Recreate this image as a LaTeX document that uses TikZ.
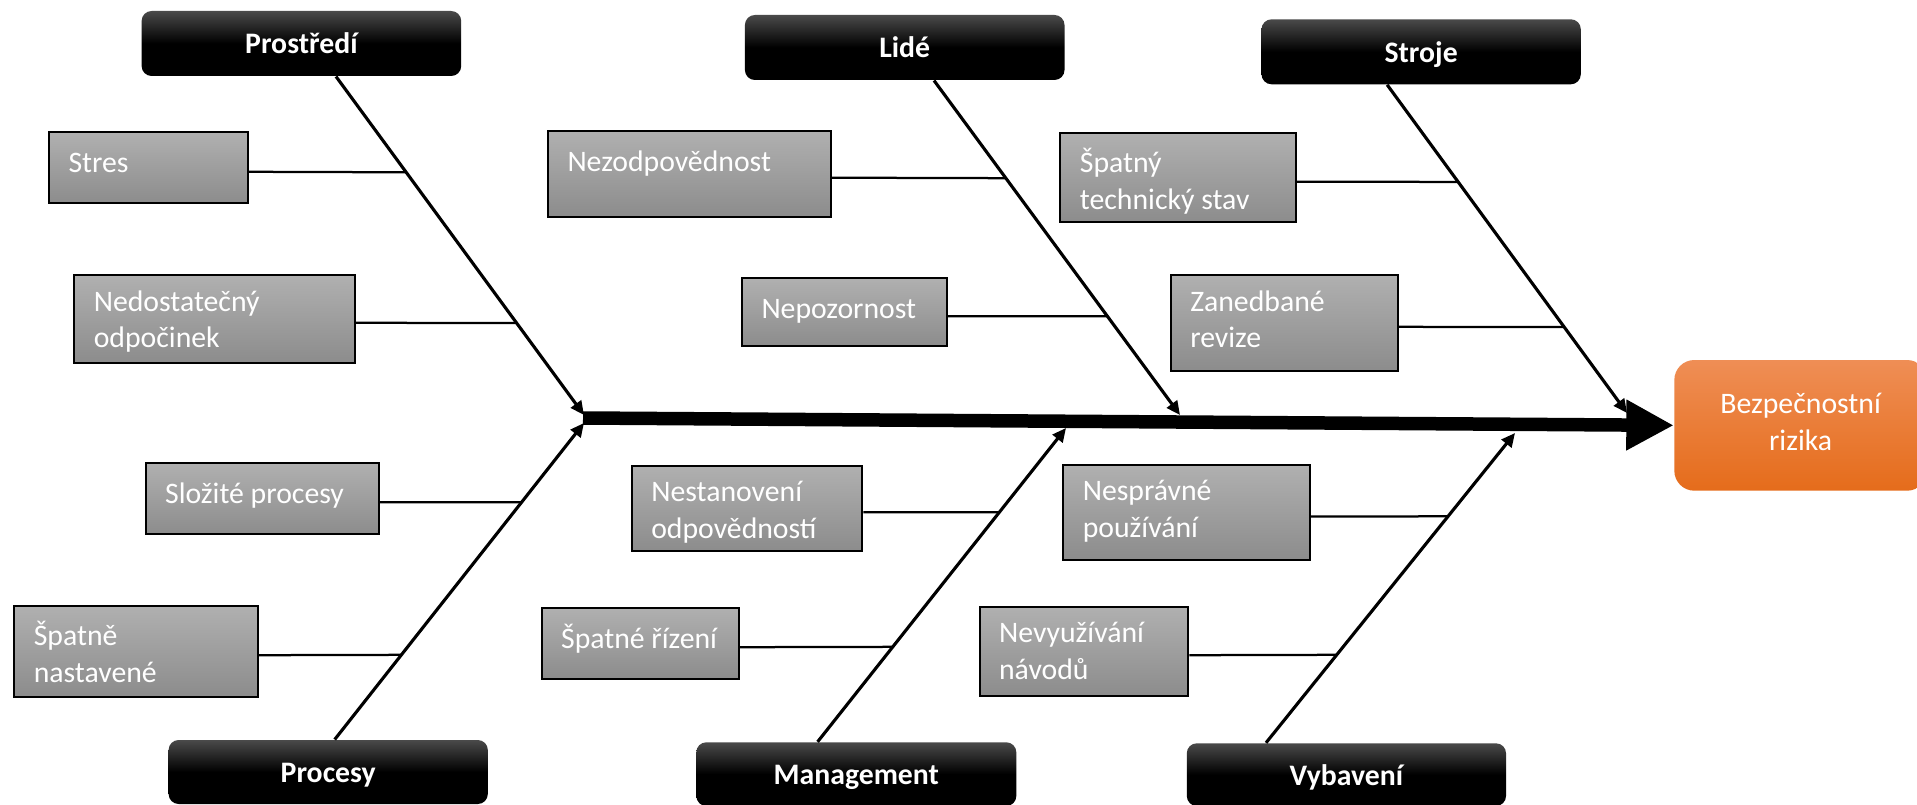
\documentclass[tikz,border=0pt]{standalone}
\usepackage{fontspec}
\setmainfont{Carlito}
\usetikzlibrary{arrows.meta,calc,fit}
\definecolor{headtop}{HTML}{4A4A4A}
\definecolor{causetop}{HTML}{B0B0B0}
\definecolor{causebot}{HTML}{8C8C8C}
\definecolor{efftop}{HTML}{EF8E55}
\definecolor{effbot}{HTML}{E56C1B}
\newcommand\dfont{\fontsize{11.9}{14.6}\selectfont}
\begin{document}
\begin{tikzpicture}[x=0.4pt,y=-0.4pt,
 head/.style={inner sep=0pt, rounded corners=4pt, top color=headtop, bottom color=black, middle color=black},
 hlabel/.style={anchor=base, inner sep=0pt, text=white, font=\dfont\bfseries},
 cause/.style={inner sep=0pt, draw=black, line width=0.8pt, top color=causetop, bottom color=causebot},
 ctext/.style={anchor=north west, inner sep=0pt, align=left, text=white, font=\dfont, execute at begin node={\rule{0pt}{10pt}}},
 eff/.style={inner sep=0pt, rounded corners=8pt, top color=efftop, bottom color=effbot},
 etext/.style={anchor=north, inner sep=0pt, align=center, text=white, font=\dfont, execute at begin node={\rule{0pt}{10pt}}},
 bone/.style={line width=1.25pt, -{Triangle[length=5.5pt,width=5pt]}},
 conn/.style={line width=0.9pt},
 spine/.style={line width=5.4pt, -{Triangle[length=19pt,width=19pt]}}
]
\fill[white] (0,0) rectangle (1917,805);
\clip (0,0) rectangle (1917,805);

% heads
\node[head, fit={(141.6,11) (461.2,76)}] (pro) {};
\node[head, fit={(744.9,15) (1064.5,80)}] (lid) {};
\node[head, fit={(1261.5,19.3) (1580.8,84.3)}] (str) {};
\node[head, fit={(168.6,740) (487.8,804)}] (prc) {};
\node[head, fit={(696.3,742.3) (1016.3,806)}] (man) {};
\node[head, fit={(1186.8,743.3) (1506,806)}] (vyb) {};
\node[hlabel] (pro-l) at ($(pro.center)+(0,10.5)$) {Prostředí};
\node[hlabel] (lid-l) at ($(lid.center)+(0,10.5)$) {Lidé};
\node[hlabel] (str-l) at ($(str.center)+(0,10.5)$) {Stroje};
\node[hlabel] (prc-l) at ($(prc.center)+(0,10.5)$) {Procesy};
\node[hlabel] (man-l) at ($(man.center)+(0,10.5)$) {Management};
\node[hlabel] (vyb-l) at ($(vyb.center)+(0,10.5)$) {Vybavení};

% effect
\node[eff, fit={(1674.3,360) (1927,490.7)}] (eff) {};
\node[etext] (eff-t) at (1800.6,393) {Bezpečnostní\\rizika};

% spine
\coordinate (sp) at (583,418);
\draw[spine] (sp) -- (eff.west);

% bones
\coordinate (pro-s) at ($(pro.south)+(34.6,0)$);
\coordinate (pro-t) at (584,415);
\coordinate (lid-s) at ($(lid.south)+(29.3,0)$);
\coordinate (lid-t) at (1180,415);
\coordinate (str-s) at ($(str.south)+(-34,0)$);
\coordinate (str-t) at (1627,413);
\coordinate (prc-s) at ($(prc.north)+(6.5,0)$);
\coordinate (prc-t) at (584,423);
\coordinate (man-s) at ($(man.north)+(-38.7,0)$);
\coordinate (man-t) at (1066,428);
\coordinate (vyb-s) at ($(vyb.north)+(-80.4,0)$);
\coordinate (vyb-t) at (1515,433);
\foreach \b in {pro,lid,str,prc,man,vyb} {\draw[bone] (\b-s) -- (\b-t);}

% causes
\node[cause, fit={(49,132.3) (247.8,203.3)}] (c1) {};
\node[ctext] (c1t) at ($(c1.north west)+(20,16)$) {Stres};
\node[cause, fit={(74.3,275) (355,362.7)}] (c2) {};
\node[ctext] (c2t) at ($(c2.north west)+(20,16)$) {Nedostatečný\\odpočinek};
\node[cause, fit={(548,130.7) (831,216.7)}] (c3) {};
\node[ctext] (c3t) at ($(c3.north west)+(20,16)$) {Nezodpovědnost};
\node[cause, fit={(742,278.3) (947,346)}] (c4) {};
\node[ctext] (c4t) at ($(c4.north west)+(20,16)$) {Nepozornost};
\node[cause, fit={(1060.4,133) (1296.2,222.3)}] (c5) {};
\node[ctext] (c5t) at ($(c5.north west)+(20,16)$) {Špatný\\technický stav};
\node[cause, fit={(1170.8,275) (1397.7,370.7)}] (c6) {};
\node[ctext] (c6t) at ($(c6.north west)+(20,16)$) {Zanedbané\\revize};
\node[cause, fit={(145.7,462.7) (378.8,534)}] (c7) {};
\node[ctext] (c7t) at ($(c7.north west)+(20,16)$) {Složité procesy};
\node[cause, fit={(14.3,605.7) (258,696.7)}] (c8) {};
\node[ctext] (c8t) at ($(c8.north west)+(20,16)$) {Špatně\\nastavené};
\node[cause, fit={(631.8,465.7) (862.4,551)}] (c9) {};
\node[ctext] (c9t) at ($(c9.north west)+(20,16)$) {Nestanovení\\odpovědností};
\node[cause, fit={(541.6,607.7) (738.8,678.7)}] (c10) {};
\node[ctext] (c10t) at ($(c10.north west)+(20,16)$) {Špatné řízení};
\node[cause, fit={(1063.3,465) (1309.6,560)}] (c11) {};
\node[ctext] (c11t) at ($(c11.north west)+(20,16)$) {Nesprávné\\používání};
\node[cause, fit={(979.6,606.7) (1188.4,695.7)}] (c12) {};
\node[ctext] (c12t) at ($(c12.north west)+(20,16)$) {Nevyužívání\\návodů};

% connector ends on bones
\coordinate (b1) at ($(pro-s)!0.283!(pro-t)$);
\coordinate (b2) at ($(pro-s)!0.728!(pro-t)$);
\coordinate (b3) at ($(lid-s)!0.292!(lid-t)$);
\coordinate (b4) at ($(lid-s)!0.705!(lid-t)$);
\coordinate (b5) at ($(str-s)!0.296!(str-t)$);
\coordinate (b6) at ($(str-s)!0.738!(str-t)$);
\coordinate (b7) at ($(prc-s)!0.750!(prc-t)$);
\coordinate (b8) at ($(prc-s)!0.2675!(prc-t)$);
\coordinate (b9) at ($(man-s)!0.7316!(man-t)$);
\coordinate (b10) at ($(man-s)!0.3026!(man-t)$);
\coordinate (b11) at ($(vyb-s)!0.731!(vyb-t)$);
\coordinate (b12) at ($(vyb-s)!0.284!(vyb-t)$);
\foreach \i in {1,...,12} {\draw[conn] ([yshift=-1.6pt]c\i.east) -- (b\i);}
\end{tikzpicture}
\end{document}
